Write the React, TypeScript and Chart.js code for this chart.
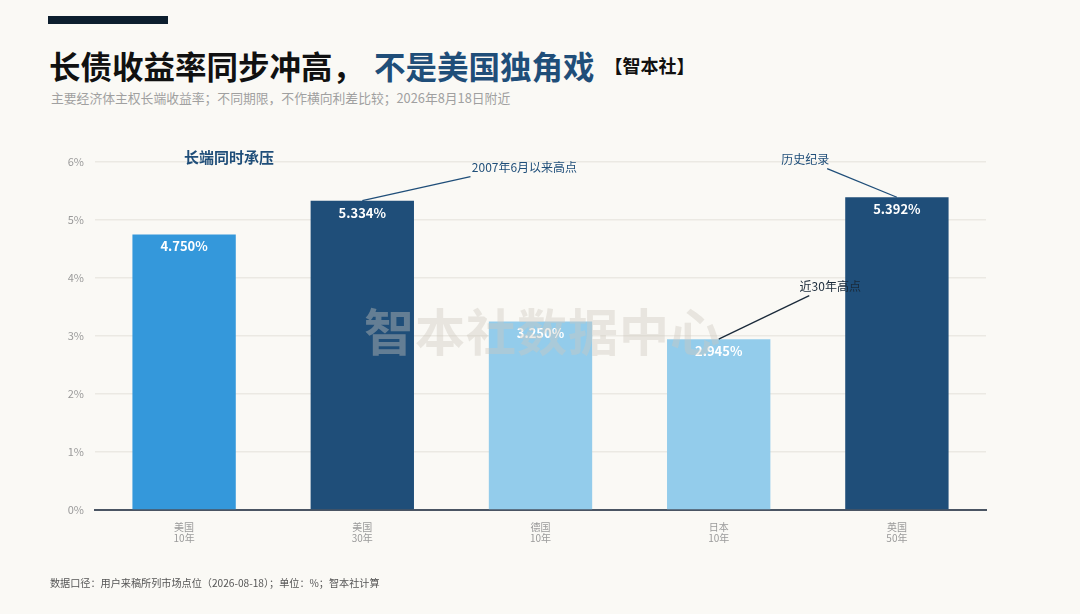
import React, { useEffect, useRef } from "react";
import { Chart, registerables } from "chart.js";

Chart.register(...registerables);

const categories: string[][] = [["美国", "10年"], ["美国", "30年"], ["德国", "10年"], ["日本", "10年"], ["英国", "50年"]];
const yields: number[] = [4.75, 5.334, 3.25, 2.945, 5.392];
const valueLabels: string[] = ["4.750%", "5.334%", "3.250%", "2.945%", "5.392%"];
const barColors: string[] = ["#3498db", "#1f4e79", "#93cceb", "#93cceb", "#1f4e79"];
const yTicks: number[] = [0, 1, 2, 3, 4, 5, 6];

// annotations: bar index, label text, label position in data units
const notes = [
  { index: 1, text: "2007年6月以来高点", labelX: 1.91, labelY: 5.91, endDx: -54, color: "#1f4e79" },
  { index: 4, text: "历史纪录", labelX: 3.485, labelY: 6.05, endDx: 22, color: "#1f4e79" },
  { index: 3, text: "近30年高点", labelX: 3.626, labelY: 3.86, endDx: -21, color: "#1a2a3a" },
];

const FONT = "'Noto Sans CJK SC', 'Noto Sans', sans-serif";

export default function App() {
  const ref = useRef<HTMLCanvasElement | null>(null);

  useEffect(() => {
    document.body.style.margin = "0";
    const canvas = ref.current;
    if (!canvas) return;

    const labelPlugin = {
      id: "labelsAndNotes",
      afterDatasetsDraw(chart: any) {
        const ctx = chart.ctx;
        const meta = chart.getDatasetMeta(0);
        const xs = chart.scales.x;
        const ys = chart.scales.y;
        ctx.save();
        ctx.font = `bold 13px ${FONT}`;
        ctx.fillStyle = "#ffffff";
        ctx.textAlign = "center";
        ctx.textBaseline = "middle";
        meta.data.forEach((bar: any, i: number) => {
          ctx.fillText(valueLabels[i], bar.x, bar.y + 12);
        });
        notes.forEach((n) => {
          const bar: any = meta.data[n.index];
          const lx = xs.getPixelForValue(n.labelX);
          const ly = ys.getPixelForValue(n.labelY);
          ctx.strokeStyle = n.color;
          ctx.lineWidth = 1.3;
          ctx.beginPath();
          ctx.moveTo(bar.x, bar.y);
          ctx.lineTo(lx + n.endDx, ly + 9.5);
          ctx.stroke();
          ctx.font = `12px ${FONT}`;
          ctx.fillStyle = n.color;
          ctx.textAlign = "center";
          ctx.textBaseline = "middle";
          ctx.fillText(n.text, lx, ly);
        });
        ctx.restore();
      },
    };

    const chart = new Chart(canvas, {
      type: "bar",
      data: {
        labels: categories,
        datasets: [
          {
            data: yields,
            backgroundColor: barColors,
            borderWidth: 0,
            barPercentage: 0.58,
            categoryPercentage: 1,
          },
        ],
      },
      options: {
        animation: false,
        responsive: false,
        maintainAspectRatio: false,
        layout: { padding: { left: 43, right: 94, top: 162, bottom: 40 } },
        plugins: { legend: { display: false }, tooltip: { enabled: false } },
        scales: {
          x: {
            grid: { display: false },
            border: { display: true, color: "#4a5563", width: 2 },
            ticks: {
              color: "#9a9a9a",
              font: { size: 10, family: FONT, lineHeight: 1.1 },
              padding: 4,
              maxRotation: 0,
            },
            afterFit(scale: any) {
              scale.height = 64;
            },
          },
          y: {
            min: 0,
            max: 6,
            afterBuildTicks(scale: any) {
              scale.ticks = yTicks.map((v) => ({ value: v }));
            },
            grid: { color: "#ebe9e3", lineWidth: 1.5, drawTicks: false },
            border: { display: false },
            ticks: {
              color: "#9a9a9a",
              font: { size: 11, family: FONT },
              padding: 11,
              callback: (v: any) => `${v}%`,
            },
            afterFit(scale: any) {
              scale.width = 52;
            },
          },
        },
      },
      plugins: [labelPlugin],
    });
    return () => chart.destroy();
  }, []);

  return (
    <div
      style={{
        position: "absolute",
        left: 0,
        top: 0,
        width: 1080,
        height: 614,
        background: "#faf9f5",
        overflow: "hidden",
        fontFamily: FONT,
      }}
    >
      <div style={{ position: "absolute", left: 48, top: 16, width: 120, height: 8, background: "#0c1e2e" }} />
      <div
        style={{
          position: "absolute",
          left: 49,
          top: 44,
          fontSize: 31.5,
          fontWeight: 700,
          color: "#111",
          whiteSpace: "nowrap",
          lineHeight: "42px",
        }}
      >
        长债收益率同步冲高，
        <span style={{ color: "#1f4e79", marginLeft: 10 }}>不是美国独角戏</span>
        <span style={{ fontSize: 18, color: "#111", marginLeft: 10, verticalAlign: "6px" }}>【智本社】</span>
      </div>
      <div
        style={{ position: "absolute", left: 51, top: 88, fontSize: 12.8, color: "#a0a0a0", whiteSpace: "nowrap" }}
      >
        主要经济体主权长端收益率；不同期限，不作横向利差比较；2026年8月18日附近
      </div>
      <canvas ref={ref} width={1080} height={614} style={{ position: "absolute", left: 0, top: 0 }} />
      <div
        style={{
          position: "absolute",
          left: 184,
          top: 146,
          fontSize: 15,
          fontWeight: 700,
          color: "#1f4e79",
          whiteSpace: "nowrap",
        }}
      >
        长端同时承压
      </div>
      <div
        style={{
          position: "absolute",
          left: 364,
          top: 297,
          fontSize: 50,
          fontWeight: 700,
          color: "rgba(205,200,190,0.4)",
          whiteSpace: "nowrap",
          pointerEvents: "none",
          letterSpacing: 1,
          lineHeight: "64px",
        }}
      >
        智本社数据中心
      </div>
      <div
        style={{ position: "absolute", left: 50, top: 575, fontSize: 10.15, color: "#555", whiteSpace: "nowrap" }}
      >
        数据口径：用户来稿所列市场点位（2026-08-18）；单位：%；智本社计算
      </div>
    </div>
  );
}
